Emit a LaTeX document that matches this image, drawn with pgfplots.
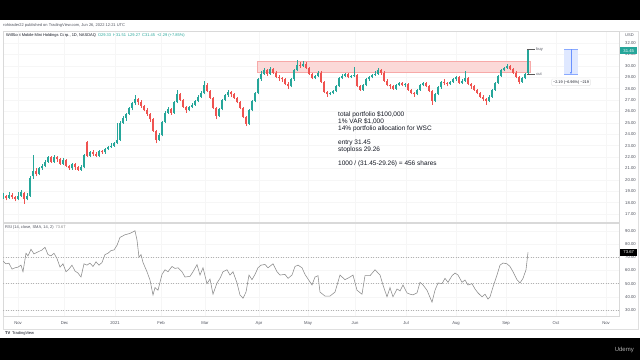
\documentclass[border=0pt]{standalone}
\usepackage{fontspec}
\setmainfont{Liberation Sans}
\usepackage{pgfplots}
\usepackage{pgfplotstable}
\pgfplotsset{compat=1.18}
\usetikzlibrary{arrows.meta}
\definecolor{tvgreen}{HTML}{26A69A}
\definecolor{tvred}{HTML}{EF5350}
\definecolor{tvtext}{HTML}{50535E}
\definecolor{tvdark}{HTML}{131722}
\definecolor{tvgray}{HTML}{8A8A8A}
\definecolor{mblue}{HTML}{2962FF}

\pgfplotstableread{
x o h l c
3 18.5 18.8 18.3 18.6
9 18.4 18.9 18.3 18.7
18 18.3 18.9 18.2 18.6
21 18.6 19.1 18.5 18.9
27 18.3 18.8 18.2 18.6
30 18.6 20.3 18.5 20.2
33 20.3 22.2 20.1 20.8
39 20.5 21.1 20.4 21.0
42 21.0 21.4 20.9 21.2
45 21.2 21.7 21.1 21.6
48 21.6 22.1 21.5 22.0
54 21.6 22.2 21.5 22.0
63 21.4 21.9 21.3 21.7
72 21.0 21.5 20.9 21.4
81 20.9 21.3 20.8 21.1
84 21.1 22.3 21.0 22.2
90 22.1 22.5 22.0 22.4
99 22.1 22.6 22.0 22.5
105 22.4 22.8 22.3 22.7
108 22.7 23.0 22.6 22.9
111 22.9 23.2 22.8 23.0
114 23.0 23.3 22.9 23.2
117 23.2 25.0 23.1 23.5
120 23.5 25.2 23.4 25.0
123 25.0 25.6 24.9 25.4
126 25.4 25.9 25.2 25.8
129 25.8 26.4 25.7 26.3
132 26.3 26.8 26.1 26.7
135 26.7 27.4 26.6 27.1
159 23.5 24.1 23.4 23.9
162 23.9 25.2 23.8 25.1
165 25.1 26.0 25.0 25.9
168 25.9 26.4 25.8 26.2
174 25.9 26.9 25.8 26.8
177 26.8 27.9 26.7 27.5
189 26.1 26.5 26.0 26.4
192 26.4 26.7 26.3 26.6
195 26.6 27.0 26.5 26.9
198 26.9 27.4 26.8 27.3
201 27.3 27.8 27.2 27.6
204 27.6 28.7 27.5 28.3
219 25.6 26.3 25.5 26.2
222 26.2 27.1 26.1 27.0
225 27.0 27.5 26.9 27.4
228 27.4 27.9 27.3 27.7
249 24.9 26.2 24.8 26.1
252 26.1 27.0 26.0 26.9
255 26.9 27.7 26.8 27.6
258 27.6 28.9 27.5 28.8
261 28.8 29.5 28.7 29.3
264 29.3 29.8 29.2 29.6
270 29.3 29.9 29.2 29.7
291 28.2 28.9 28.1 28.8
294 28.8 29.7 28.7 29.6
297 29.6 30.5 29.5 30.1
303 30.0 30.4 29.9 30.2
315 28.9 29.2 28.8 29.1
318 29.1 29.5 29.0 29.4
330 27.5 27.7 27.4 27.6
333 27.6 27.9 27.5 27.8
336 27.8 28.3 27.7 28.2
339 28.2 29.0 28.1 28.9
342 28.9 29.3 28.8 29.1
345 29.1 29.4 29.0 29.3
351 29.0 29.2 28.9 29.1
354 29.1 29.9 29.0 29.2
363 27.9 28.4 27.8 28.3
366 28.3 28.9 28.2 28.8
369 28.8 29.1 28.7 29.0
372 29.0 29.3 28.9 29.2
375 29.2 29.5 29.1 29.3
378 29.3 29.8 29.2 29.6
396 28.0 28.4 27.9 28.3
399 28.3 28.6 28.2 28.5
405 28.3 28.5 28.1 28.4
417 27.5 28.0 27.4 27.9
420 27.9 28.4 27.8 28.3
423 28.3 28.6 28.2 28.5
435 26.9 27.6 26.8 27.5
438 27.5 28.2 27.4 28.1
441 28.1 28.7 28.0 28.6
450 28.4 28.7 28.3 28.6
453 28.6 28.9 28.5 28.8
456 28.8 29.1 28.7 29.0
462 28.5 28.8 28.4 28.7
465 28.7 29.5 28.6 28.9
489 26.9 27.4 26.8 27.3
492 27.3 28.0 27.2 27.9
495 27.9 28.6 27.8 28.5
498 28.5 29.2 28.4 29.1
501 29.1 29.7 29.0 29.6
504 29.6 29.9 29.5 29.8
507 29.8 30.2 29.7 30.0
522 28.6 29.0 28.5 28.9
525 28.9 29.4 28.8 29.3
528 29.33 31.51 29.27 31.45
}\greencandles

\pgfplotstableread{
x o h l c
6 18.6 18.7 18.2 18.4
12 18.7 18.8 18.3 18.5
15 18.5 18.6 18.1 18.3
24 18.8 18.9 17.9 18.3
36 20.8 21.0 20.3 20.5
51 22.0 22.1 21.5 21.6
57 22.0 22.1 21.6 21.8
60 21.8 21.9 21.3 21.4
66 21.7 21.8 21.1 21.2
69 21.2 21.3 20.9 21.0
75 21.4 21.5 20.9 21.1
78 21.1 21.2 20.8 20.9
87 23.3 23.4 22.0 22.1
93 22.4 22.6 22.1 22.3
96 22.3 22.4 22.0 22.1
102 22.5 22.6 22.3 22.4
138 27.1 27.2 26.6 26.8
141 26.8 27.0 26.3 26.5
144 26.5 26.6 26.0 26.1
147 26.1 26.3 25.6 25.8
150 25.8 25.9 25.1 25.3
153 25.3 25.4 24.2 24.3
156 24.3 24.4 23.2 23.5
171 26.2 26.3 25.7 25.9
180 27.5 27.6 26.9 27.0
183 27.0 27.1 26.3 26.4
186 26.4 26.5 25.9 26.1
207 28.3 28.5 27.7 27.8
210 27.8 27.9 27.1 27.2
213 27.2 27.3 26.2 26.3
216 26.3 26.4 25.3 25.6
231 27.7 27.8 27.3 27.5
234 27.5 27.6 27.1 27.2
237 27.2 27.3 26.7 26.8
240 26.8 26.9 26.2 26.3
243 26.3 26.4 25.4 25.5
246 25.5 25.6 24.7 24.9
267 29.6 29.7 29.1 29.3
273 29.7 29.8 29.3 29.4
276 29.4 29.5 28.9 29.0
279 29.0 29.2 28.7 28.9
282 28.9 29.0 28.6 28.8
285 28.8 28.9 28.3 28.4
288 28.4 28.6 28.0 28.2
300 30.1 30.3 29.8 30.0
306 30.2 30.3 29.7 29.8
309 29.8 29.9 29.2 29.3
312 29.3 29.4 28.8 28.9
321 29.4 29.5 28.5 28.6
324 28.6 28.7 27.6 27.7
327 27.7 27.8 27.3 27.5
348 29.3 29.4 28.9 29.0
357 29.2 29.3 28.1 28.2
360 28.2 28.3 27.8 27.9
381 29.6 29.7 29.2 29.4
384 29.4 29.5 28.6 28.7
387 28.7 28.8 28.2 28.3
390 28.3 28.4 28.0 28.2
393 28.2 28.3 27.9 28.0
402 28.5 28.6 28.2 28.3
408 28.4 28.5 27.8 27.9
411 27.9 28.0 27.5 27.6
414 27.6 27.7 27.3 27.5
426 28.5 28.6 28.1 28.2
429 28.2 28.3 27.7 27.8
432 27.8 27.9 26.6 26.9
444 28.6 28.8 28.3 28.5
447 28.5 28.6 28.2 28.4
459 29.0 29.1 28.4 28.5
468 28.9 29.0 28.3 28.4
471 28.4 28.5 28.0 28.2
474 28.2 28.3 27.8 27.9
477 27.9 28.0 27.5 27.6
480 27.6 27.7 27.2 27.3
483 27.3 27.4 26.9 27.1
486 27.1 27.2 26.6 26.9
510 30.0 30.1 29.6 29.7
513 29.7 29.8 29.3 29.4
516 29.4 29.5 28.9 29.0
519 29.0 29.1 28.4 28.6
}\redcandles

\pgfplotstableread{
x v
3 67
6 65
9 65.5
12 61
15 62
18 62.5
21 64
23 59
26 73
28 71
31 76
34 72.5
38 74
42 75.5
45 77.5
48 72
51 71
54 73
57 69
60 62.5
63 65
66 59
69 61
72 64
75 59.5
78 58
81 55
84 65
87 64
90 65.5
93 63
96 66.5
99 64
102 66
105 72
108 73
111 75
114 75.5
117 79
120 85
125 87
130 88
135 90
137 83
139 70
141 72
143 66
147 59
150 52.7
153 41.4
155 47
158 45
162 57
165 60.5
168 59
172 63
175 61.5
178 62
182 59
185 55
190 55.5
193 59
197 64.4
200 56.5
203 62
207 50
210 53.5
213 42
217 50.5
220 54
223 59
227 60.5
230 56.5
233 59
237 50.5
240 41.4
243 39
246 43.6
249 56.5
252 53
255 57
258 62
261 64
265 64.5
268 62
273 65
277 59
280 56.5
285 57
288 54
292 56.5
295 63
298 64
302 62
305 57
308 53.5
312 49
315 55
318 56
320 43.6
325 40.6
330 40.6
335 43.6
340 56.5
345 53
350 55
353 56.5
357 45
362 42
365 56
370 56
375 60.5
380 56.5
383 49
387 40
390 47
393 40
397 46
400 44.5
403 49
407 43
410 42
413 41.5
417 43
420 51
423 49
427 45
432 36
435 45
438 50.5
442 50
445 54
448 51
452 56
455 58
458 56.5
462 51
465 52.7
468 49
472 50
475 46
478 43
482 40
485 42
488 38.3
490 40
493 47.4
497 56.5
500 64
503 65.6
507 65
510 63
513 59
517 53
520 50.5
523 54
526 60.5
528 73.67
}\rsidata

\pgfplotsset{
  tvaxis/.style={
    scale only axis, anchor=south west,
    xmin=3, xmax=619,
    xtick={18,64.5,115,161,205,259,308,355,406,456,506,556,606},
    grid=major, grid style={gray!7, line width=0.3pt},
    axis line style={gray!30, line width=0.4pt},
    tick style={draw=none},
    yticklabel pos=right,
    yticklabel style={font=\fontsize{4.2}{5}\selectfont, text=tvtext, anchor=west, inner sep=0pt, xshift=6pt,
      /pgf/number format/fixed, /pgf/number format/fixed zerofill,
      /pgf/number format/precision=2, /pgf/number format/assume math mode=true},
  },
  wick/.style={draw=none, mark=none, forget plot,
    error bars/.cd, y dir=plus, y explicit, error mark=none,
    error bar style={line width=0.45pt, draw=#1}},
  body/.style={draw=none, mark=none, forget plot,
    error bars/.cd, y dir=plus, y explicit, error mark=none,
    error bar style={line width=1.6pt, draw=#1}},
}

\begin{document}
\begin{tikzpicture}[x=1pt,y=1pt]
\fill[black] (0,0) rectangle (640,360);
\fill[white] (0,22) rectangle (640,340);
\draw[gray!25, line width=0.4pt] (3,31) rectangle (638,329);
\node[anchor=west, inner sep=0, font=\fontsize{4}{5}\selectfont, text=tvtext] at (3,335) {rohtrader22 published on TradingView.com, Jun 26, 2022 12:21 UTC};
\node[anchor=west, inner sep=0, font=\fontsize{4}{5}\selectfont, text=tvdark] at (6,325) {WillScot Mobile Mini Holdings Corp., 1D, NASDAQ\enspace\textcolor{tvgreen}{O29.33\enspace H31.51\enspace L29.27\enspace C31.45\enspace +2.29 (+7.85\%)}};

% price panel
\begin{axis}[tvaxis, at={(3pt,138pt)}, width=616pt, height=191pt,
  ymin=16.30, ymax=33.05, ytick={17,18,...,32}, xticklabels={,,,,,,,,,,,,}]
\fill[tvred!22] (axis cs:257,29.43) rectangle (axis cs:530,30.36);
\draw[tvred!50, line width=0.4pt] (axis cs:257,29.43) rectangle (axis cs:530,30.36);
\addplot[wick=tvgreen] table[x=x, y=l, y error plus expr=\thisrow{h}-\thisrow{l}] {\greencandles};
\addplot[body=tvgreen] table[x=x, y=o, y error plus expr=\thisrow{c}-\thisrow{o}] {\greencandles};
\addplot[wick=tvred] table[x=x, y=l, y error plus expr=\thisrow{h}-\thisrow{l}] {\redcandles};
\addplot[body=tvred] table[x=x, y=c, y error plus expr=\thisrow{o}-\thisrow{c}] {\redcandles};
% buy / cut levels
\draw[gray!70!black, line width=0.6pt] (axis cs:527,31.45) -- (axis cs:535,31.45)
  node[right, inner sep=1pt, font=\fontsize{4}{5}\selectfont, text=tvtext] {buy};
\draw[gray!70!black, line width=0.6pt] (axis cs:527,29.26) -- (axis cs:535,29.26)
  node[right, inner sep=1pt, font=\fontsize{4}{5}\selectfont, text=tvtext] {cut};
% measure tool
\fill[mblue!15] (axis cs:564,29.26) rectangle (axis cs:578,31.45);
\draw[mblue!55, line width=0.4pt] (axis cs:564,29.26) -- (axis cs:578,29.26);
\draw[mblue!55, line width=0.4pt] (axis cs:564,31.45) -- (axis cs:578,31.45);
\draw[mblue!70, line width=0.5pt, -{Latex[length=2pt,width=2pt]}] (axis cs:571,31.45) -- (axis cs:571,29.26);
\node[fill=white, draw=gray!20, rounded corners=1pt, inner sep=1.5pt, font=\fontsize{3.8}{4.5}\selectfont, text=tvdark] at (axis cs:571,28.55) {−2.19 (−6.96\%) −219};
\end{axis}

% rsi panel
\begin{axis}[tvaxis, at={(3pt,44pt)}, width=616pt, height=93pt,
  ymin=25.5, ymax=95.9, ytick={30,40,...,90},
  xticklabels={Nov,Dec,2021,Feb,Mar,Apr,May,Jun,Jul,Aug,Sep,Oct,Nov},
  xticklabel style={font=\fontsize{4.2}{5}\selectfont, text=tvtext, anchor=north, inner sep=0pt, yshift=-5pt}]
\addplot[gray!60, dash pattern=on 1pt off 1.5pt, line width=0.4pt, forget plot] coordinates {(3,70) (619,70)};
\addplot[gray!60, dash pattern=on 1pt off 1.5pt, line width=0.4pt, forget plot] coordinates {(3,50) (619,50)};
\addplot[gray!60, dash pattern=on 1pt off 1.5pt, line width=0.4pt, forget plot] coordinates {(3,30) (619,30)};
\addplot[tvgray, line width=0.55pt] table[x=x, y=v] {\rsidata};
\end{axis}

% right-side labels
\node[anchor=west, inner sep=0, font=\fontsize{4}{5}\selectfont, text=tvtext] at (625,325) {USD};
\node[fill=tvgreen, text=white, inner sep=0pt, minimum width=17pt, minimum height=7pt, anchor=west, font=\fontsize{4.2}{5}\selectfont] at (620,309.3) {31.45};
\node[fill=black, text=white, inner sep=0pt, minimum width=17pt, minimum height=7pt, anchor=west, font=\fontsize{4.2}{5}\selectfont] at (620,107.6) {73.67};
\node[anchor=west, inner sep=0, font=\fontsize{4}{5}\selectfont, text=tvtext] at (5,133) {RSI (14, close, SMA, 14, 2)\enspace\textcolor{tvgray}{73.67}};

% notes
\node[anchor=north west, inner sep=0, align=left, text=tvdark, font=\fontsize{6.5}{7.1}\selectfont] at (338,249)
  {total portfolio \$100,000\\
   1\% VAR \$1,000\\
   14\% portfolio allocation for WSC\\[7.1pt]
   entry 31.45\\
   stoploss 29.26\\[7.1pt]
   1000 / (31.45-29.26) = 456 shares};

% footer
\node[anchor=west, inner sep=0, font=\fontsize{4}{5}\selectfont, text=tvdark] at (5,27) {\textbf{TV}\, TradingView};
\node[anchor=east, inner sep=0, font=\fontsize{6}{7}\selectfont, text=gray!60] at (634,10) {Udemy};

\pgfresetboundingbox
\path[use as bounding box] (0,0) rectangle (640,360);
\end{tikzpicture}
\end{document}
